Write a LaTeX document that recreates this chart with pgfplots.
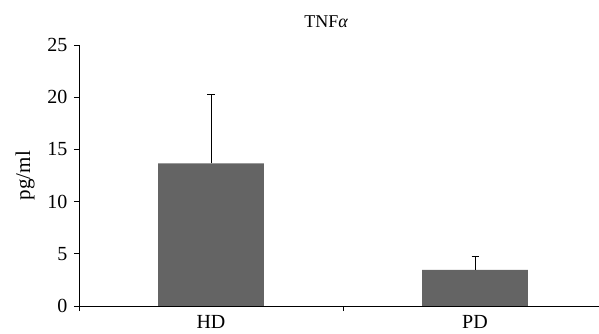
\documentclass[border=0pt]{standalone}
\usepackage{fontspec}
\setmainfont{Liberation Serif}
\usepackage{pgfplots}
\pgfplotsset{compat=1.18}
\definecolor{barg}{HTML}{646464}
\begin{document}
\begin{tikzpicture}
\begin{axis}[
  at={(0,0)}, anchor=south west,
  scale only axis, width=520pt, height=261pt,
  xmin=-0.5, xmax=1.4697, ymin=0, ymax=25,
  axis x line=bottom, axis y line=left,
  axis line style={-, line width=0.9pt},
  ytick={0,5,...,25},
  xtick={0,1}, xticklabels={HD,PD},
  minor xtick={-0.5,0.5},
  tick align=outside,
  major tick length=5pt, minor tick length=5pt,
  major x tick style={draw=none},
  tick style={black, line width=0.9pt},
  font=\fontsize{18}{21}\selectfont,
  /pgf/number format/assume math mode=true,
  yticklabel style={font=\fontsize{20}{23}\selectfont, xshift=-3pt},
  xticklabel style={font=\fontsize{20}{23}\selectfont, yshift=-1pt},
  ylabel={pg/ml},
  ylabel style={font=\fontsize{21}{24}\selectfont, yshift=6pt},
  title={TNF{\itshape α}},
  title style={font=\fontsize{18}{21}\selectfont, at={(axis description cs:0.475,1)}, anchor=south, yshift=8pt},
  clip=false,
]
\addplot[ybar, bar width=0.4, fill=barg, draw=none,
  error bars/.cd, y dir=plus, y explicit,
  error bar style={black, line width=0.8pt},
  error mark options={rotate=90, mark size=3.5pt, black, line width=0.8pt}]
  coordinates {(0,13.67) +- (0,6.63) (1,3.45) +- (0,1.27)};
\end{axis}
\pgfresetboundingbox
\useasboundingbox (-79pt,-28pt) rectangle (520pt,306pt);
\end{tikzpicture}
\end{document}
